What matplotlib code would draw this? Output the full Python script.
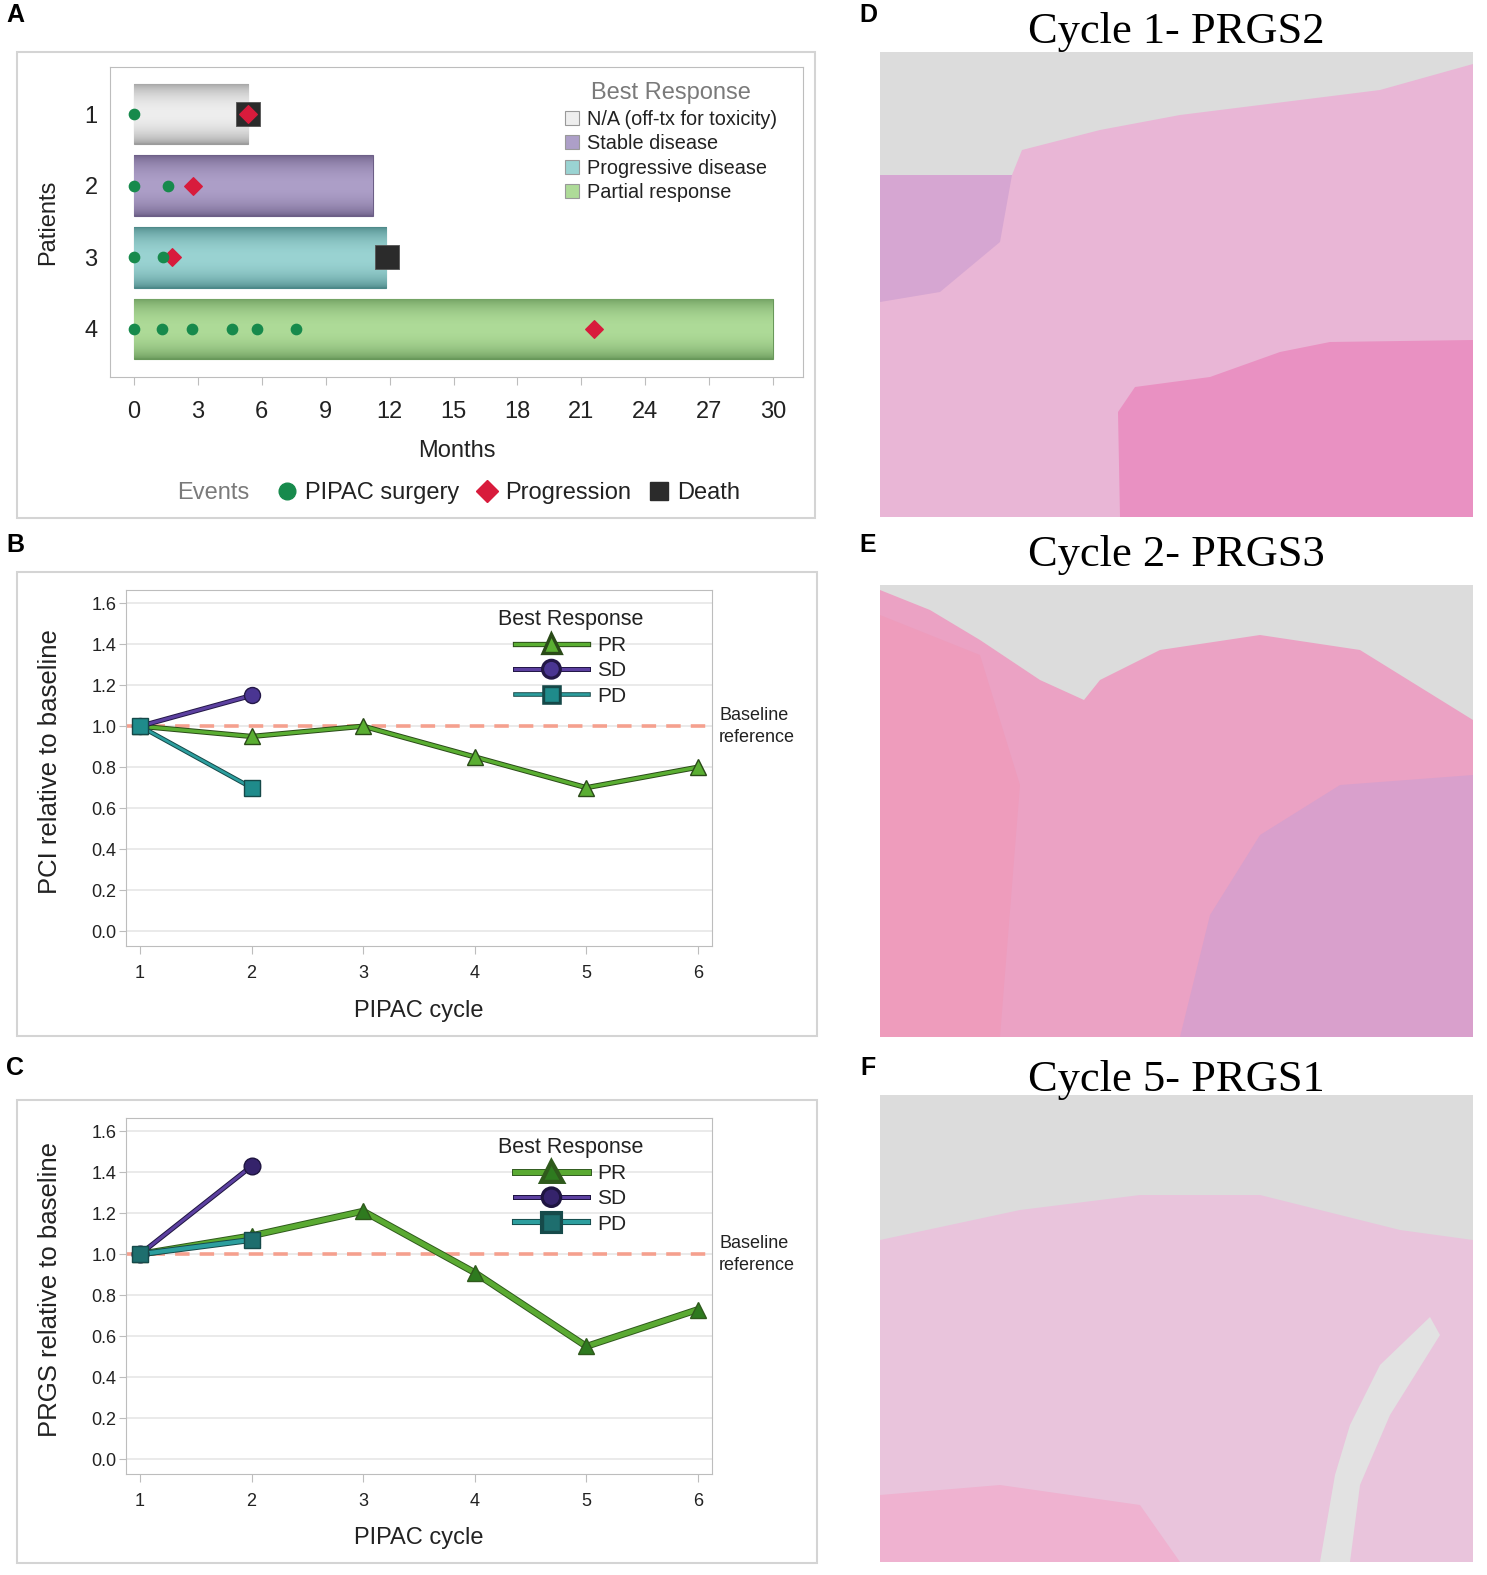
import numpy as np
import matplotlib
matplotlib.use("Agg")
import matplotlib.pyplot as plt
from matplotlib.patches import Patch, Rectangle, Polygon
from matplotlib.lines import Line2D
from matplotlib.colors import to_rgb
import matplotlib.patheffects as pe

plt.rcParams['font.family'] = ['Liberation Sans', 'DejaVu Sans']

# ---------------- data ----------------
patients = [1, 2, 3, 4]
months_on_study = [5.36, 11.2, 11.85, 30.0]
best_response = ['N/A (off-tx for toxicity)', 'Stable disease',
                 'Progressive disease', 'Partial response']
pipac_patient = [1, 2, 2, 3, 3, 4, 4, 4, 4, 4, 4]
pipac_month = [0, 0, 1.59, 0, 1.37, 0, 1.32, 2.74, 4.60, 5.76, 7.59]
prog_patient = [1, 2, 3, 4]
prog_month = [5.36, 2.77, 1.79, 21.6]
death_patient = [1, 3]
death_month = [5.36, 11.87]
month_ticks = [0, 3, 6, 9, 12, 15, 18, 21, 24, 27, 30]

cycles = [1, 2, 3, 4, 5, 6]
pci_pr = [1.0, 0.95, 1.0, 0.85, 0.70, 0.80]
pci_sd = [1.0, 1.15]
pci_pd = [1.0, 0.70]
prgs_pr = [1.0, 1.09, 1.21, 0.91, 0.55, 0.73]
prgs_sd = [1.0, 1.43]
prgs_pd = [1.0, 1.07]
y_ticks = [0.0, 0.2, 0.4, 0.6, 0.8, 1.0, 1.2, 1.4, 1.6]

titles = ['Cycle 1- PRGS2', 'Cycle 2- PRGS3', 'Cycle 5- PRGS1']

# ---------------- layout helpers ----------------
W, H = 1487, 1575
fig = plt.figure(figsize=(W / 100, H / 100), dpi=100)
fig.patch.set_facecolor('white')


def rect(x0, y0, x1, y1):
    return [x0 / W, 1 - y1 / H, (x1 - x0) / W, (y1 - y0) / H]


def fig_box(x0, y0, x1, y1):
    fig.patches.append(Rectangle((x0 / W, 1 - y1 / H), (x1 - x0) / W, (y1 - y0) / H,
                                 transform=fig.transFigure, fill=False,
                                 edgecolor='#d4d4d4', lw=1.5))


def panel_label(x, y, s):
    fig.text(x / W, 1 - y / H, s, fontsize=18, fontweight='bold', ha='center',
             va='center', color='black')


TXT = '#222222'
GRAYTXT = '#7a7a7a'
FRAME = '#bdbdbd'

# ---------------- Panel A ----------------
fig_box(17, 52, 815, 518)
axA = fig.add_axes(rect(110, 67, 803, 377))
bar_colors = [('#9b9b9b', '#eeeeee'), ('#6c5e86', '#ad9fc8'),
              ('#4c8888', '#9ad3d2'), ('#68985a', '#aedb98')]
bh = 0.85
t = np.linspace(0, 1, 80)
prof = np.clip(np.sin(np.pi * t) ** 0.6, 0, 1)
for p, L, (ec, cc) in zip(patients, months_on_study, bar_colors):
    b = axA.barh(p, L, height=bh, left=0, color=cc, edgecolor=ec, lw=0.8, zorder=1)[0]
    e, c = np.array(to_rgb(ec)), np.array(to_rgb(cc))
    grad = e[None, :] + (c - e)[None, :] * prof[:, None]
    im = axA.imshow(grad[:, None, :], extent=(0, L, p + bh / 2, p - bh / 2),
                    aspect='auto', zorder=1.5, interpolation='bilinear')
    im.set_clip_path(b)
axA.scatter(death_month, death_patient, marker='s', s=290, color='#2b2b2b',
            edgecolor='#555555', lw=0.6, zorder=3)
axA.scatter(prog_month, prog_patient, marker='D', s=80, color='#d81b3c', zorder=4)
axA.scatter(pipac_month, pipac_patient, marker='o', s=55, color='#178a4c', zorder=5)
axA.set_xlim(-1.13, 31.41)
axA.set_ylim(4.67, 0.344)
axA.set_xticks(month_ticks)
axA.set_yticks(patients)
axA.tick_params(axis='x', length=6, color=FRAME, labelsize=17, pad=11, labelcolor=TXT)
axA.tick_params(axis='y', length=0, labelsize=17, pad=9, labelcolor=TXT)
for s in axA.spines.values():
    s.set_color(FRAME)
axA.set_xlabel('Months', fontsize=17, color=TXT)
axA.xaxis.set_label_coords(0.5, 1 - (451 - 67) / 310)
axA.xaxis.label.set_va('center')
axA.set_ylabel('Patients', fontsize=17, color=TXT)
axA.yaxis.set_label_coords((48 - 110) / 693, 0.5)
axA.yaxis.label.set_va('center')

handlesA = [Patch(facecolor=cc, edgecolor='#999999', lw=0.8) for (ec, cc) in bar_colors]
legA = axA.legend(handlesA, best_response, title='Best Response', loc='upper left',
                  bbox_to_anchor=((565 - 110) / 693, 1 - (82 - 67) / 310),
                  frameon=False, fontsize=14.3, title_fontsize=17, borderpad=0,
                  borderaxespad=0, handlelength=0.7, handleheight=0.7,
                  handletextpad=0.4, labelspacing=0.28)
legA._legend_box.align = 'center'
legA.get_title().set_color(GRAYTXT)
for txt in legA.get_texts():
    txt.set_color(TXT)

# events legend
fig.text(213 / W, 1 - 493 / H, 'Events', fontsize=17, color=GRAYTXT, ha='center', va='center')
ev_handles = [Line2D([], [], ls='none', marker='o', ms=12, color='#178a4c'),
              Line2D([], [], ls='none', marker='D', ms=11, color='#d81b3c'),
              Line2D([], [], ls='none', marker='s', ms=13, color='#2b2b2b')]
legE = fig.legend(ev_handles, ['PIPAC surgery', 'Progression', 'Death'], ncol=3,
                  loc='center left', bbox_to_anchor=(275 / W, 1 - 493 / H),
                  frameon=False, fontsize=17, borderpad=0, borderaxespad=0,
                  handlelength=1.0, handletextpad=0.25, columnspacing=0.7)
for txt in legE.get_texts():
    txt.set_color(TXT)


# ---------------- Panels B and C ----------------
def line_panel(box, axr, pr, sd, pd, ylab, style):
    fig_box(*box)
    ax = fig.add_axes(rect(*axr))
    ax.set_xlim(0.875, 6.125)
    ax.set_ylim(-0.073, 1.665)
    ax.set_yticks(y_ticks)
    ax.set_yticklabels([f'{v:.1f}' for v in y_ticks])
    ax.set_xticks(cycles)
    ax.grid(axis='y', color='#e6e6e6', lw=1.2)
    ax.set_axisbelow(True)
    for s in ax.spines.values():
        s.set_color(FRAME)
    ax.tick_params(axis='y', length=5, color=FRAME, labelsize=13, pad=2, labelcolor=TXT)
    ax.tick_params(axis='x', length=6, color=FRAME, labelsize=13, pad=8, labelcolor=TXT)
    ax.axhline(1.0, color='#f5a08e', lw=2.6, dashes=(4, 2.8), zorder=1.5)
    ax.text(1.012, 1.0, 'Baseline\nreference', transform=ax.get_yaxis_transform(),
            fontsize=13, color=TXT, ha='left', va='center', linespacing=1.38,
            clip_on=False)
    series = [(pr, 'PR'), (sd, 'SD'), (pd, 'PD')]
    handles = []
    for (vals, name) in series:
        st = style[name]
        xs = cycles[:len(vals)]
        ax.plot(xs, vals, color=st['lc'], lw=st['lw'], solid_capstyle='round', zorder=3,
                path_effects=[pe.Stroke(linewidth=st['lw'] + 1.4, foreground=st['dark']),
                              pe.Normal()])
        ax.plot(xs, vals, ls='none', marker=st['m'], ms=st['ms'], mfc=st['mc'],
                mec=st['dark'], mew=1.0, zorder=4)
        handles.append(Line2D([], [], color=st['lc'], lw=st['lw'], marker=st['m'],
                              ms=st['ms'], mfc=st['mc'], mec=st['dark'], mew=1.0,
                              path_effects=[pe.Stroke(linewidth=st['lw'] + 1.4,
                                                      foreground=st['dark']), pe.Normal()]))
    x0, y0, x1, y1 = axr
    leg = ax.legend(handles, ['PR', 'SD', 'PD'], title='Best Response', loc='upper left',
                    bbox_to_anchor=((498 - x0) / (x1 - x0), 1 - 19 / (y1 - y0)),
                    frameon=False, fontsize=15, title_fontsize=15.5, borderpad=0,
                    borderaxespad=0, handlelength=3.5, handletextpad=0.45,
                    labelspacing=0.3)
    leg.get_title().set_color(TXT)
    for txt in leg.get_texts():
        txt.set_color(TXT)
    ax.set_xlabel('PIPAC cycle', fontsize=17, color=TXT)
    ax.xaxis.set_label_coords(0.5, 1 - (box[3] - 25 - y0) / (y1 - y0))
    ax.xaxis.label.set_va('center')
    ax.set_ylabel(ylab, fontsize=18.5, color=TXT)
    ax.yaxis.set_label_coords((50 - x0) / (x1 - x0), 0.517)
    ax.yaxis.label.set_va('center')
    return ax


styleB = {'PR': dict(lc='#5aae32', lw=2.4, m='^', ms=11, mc='#5aae32', dark='#2a4a18'),
          'SD': dict(lc='#5c40a0', lw=2.2, m='o', ms=11.5, mc='#4a3592', dark='#231747'),
          'PD': dict(lc='#2c9e9e', lw=1.9, m='s', ms=11, mc='#1f8b8b', dark='#154848')}
styleC = {'PR': dict(lc='#5aaa32', lw=3.6, m='^', ms=12, mc='#2e7a1f', dark='#2f5a1c'),
          'SD': dict(lc='#5c40a0', lw=2.2, m='o', ms=12, mc='#35236b', dark='#1e1440'),
          'PD': dict(lc='#2c9e9e', lw=3.0, m='s', ms=12, mc='#1e6e6e', dark='#164a4a')}

line_panel((17, 572, 817, 1036), (126, 590, 712, 946), pci_pr, pci_sd, pci_pd,
           'PCI relative to baseline', styleB)
line_panel((17, 1100, 817, 1563), (126, 1118, 712, 1474), prgs_pr, prgs_sd, prgs_pd,
           'PRGS relative to baseline', styleC)

# ---------------- Panels D, E, F (histology photographs, approximated) ----------------
bg = '#dcdcdc'
img_boxes = [(880, 52, 1473, 517), (880, 585, 1473, 1037), (880, 1095, 1473, 1562)]
title_y = [32, 555, 1080]
tissue = [
    [(0, 123), (132, 123), (142, 98), (220, 78), (300, 63), (420, 48), (500, 38), (593, 12),
     (593, 465), (0, 465)],
    [(0, 5), (50, 25), (100, 55), (160, 95), (204, 115), (220, 95), (280, 65), (380, 50),
     (480, 65), (593, 135), (593, 452), (0, 452)],
    [(0, 145), (140, 115), (260, 100), (380, 100), (460, 120), (520, 135), (593, 145),
     (593, 467), (0, 467)],
]
tissue_col = ['#e9b6d6', '#eba2c4', '#e9c4dc']
extras = [
    [([(240, 465), (238, 360), (255, 335), (330, 325), (400, 300), (450, 290), (593, 288),
       (593, 465)], '#e991c2'),
     ([(0, 123), (132, 123), (120, 190), (60, 240), (0, 250)], '#d6a6d2')],
    [([(300, 452), (330, 330), (380, 250), (460, 200), (593, 190), (593, 452)], '#d9a0cc'),
     ([(0, 30), (100, 70), (140, 200), (120, 452), (0, 452)], '#ee9cbc')],
    [([(550, 222), (500, 270), (470, 330), (455, 380), (440, 467), (470, 467), (480, 390),
       (510, 320), (560, 240)], '#e2e2e2'),
     ([(0, 400), (120, 390), (260, 410), (300, 467), (0, 467)], '#efb2d0')],
]
for i, ((x0, y0, x1, y1), poly, col, ex) in enumerate(zip(img_boxes, tissue, tissue_col, extras)):
    ax = fig.add_axes(rect(x0, y0, x1, y1))
    w, h = x1 - x0, y1 - y0
    ax.set_xlim(0, w)
    ax.set_ylim(h, 0)
    ax.set_facecolor(bg)
    ax.add_patch(Polygon(poly, closed=True, color=col, lw=0))
    for pts, c in ex:
        ax.add_patch(Polygon(pts, closed=True, color=c, lw=0))
    ax.set_xticks([])
    ax.set_yticks([])
    for s in ax.spines.values():
        s.set_visible(False)
    fig.text(1176 / W, 1 - title_y[i] / H, titles[i], fontsize=32, ha='center', va='center',
             family=['Liberation Serif', 'DejaVu Serif'], color='black')

for x, y, s in [(15, 15, 'A'), (15, 545, 'B'), (15, 1068, 'C'),
                (868, 15, 'D'), (868, 545, 'E'), (868, 1068, 'F')]:
    panel_label(x, y, s)

fig.savefig('out.png', dpi=100)
